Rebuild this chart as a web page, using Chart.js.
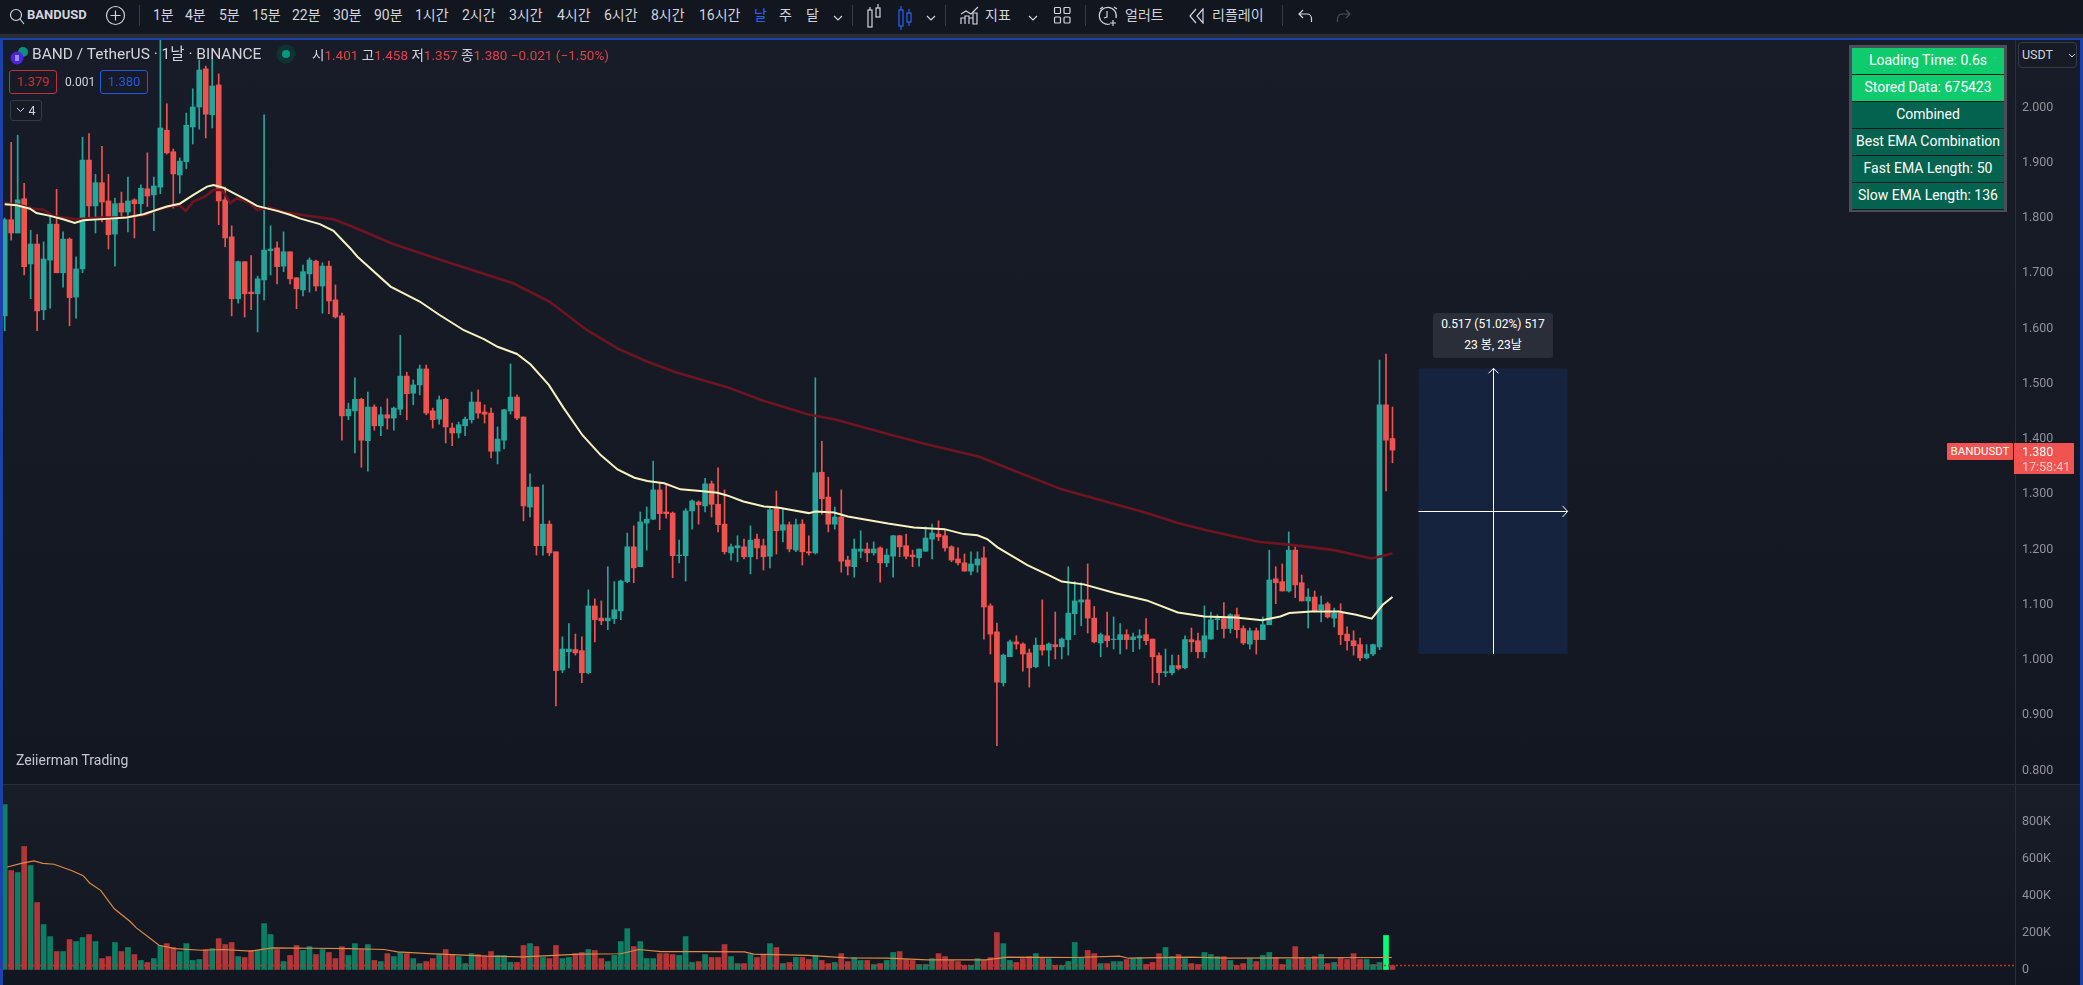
<!DOCTYPE html>
<html lang="ko"><head><meta charset="utf-8"><title>BANDUSDT</title>
<script src="https://cdn.jsdelivr.net/npm/chart.js@4"></script>
<style>
html,body{margin:0;padding:0;background:#131722;overflow:hidden}
body{width:2083px;height:985px;position:relative;font-family:Roboto,'Noto Sans CJK KR',sans-serif;color:#d1d4dc}
.a{position:absolute;white-space:nowrap}
#toolbar{left:0;top:0;width:2083px;height:34px;background:#12161f}
#toolbar span.t{position:absolute;top:5px;font-size:14px;line-height:20px;white-space:nowrap}
#toolbar i{position:absolute;top:5px;width:1px;height:21px;background:#363a45}
#toolbar svg{position:absolute;fill:none;stroke:#d1d4dc;stroke-width:1.2}
#strip{left:0;top:34px;width:2083px;height:4px;background:#2a2e39}
#frameT{left:0;top:38px;width:2083px;height:2px;background:#1e40af}
#frameL{left:0;top:38px;width:3px;height:947px;background:#1e40af}
#frameR{left:2080px;top:38px;width:3px;height:947px;background:#1e40af}
#paneP{left:0;top:40px;width:2083px;height:744px;background:linear-gradient(#181c28,#131721)}
#paneV{left:0;top:785px;width:2083px;height:200px;background:linear-gradient(#191d28,#121620)}
#sep{left:0;top:784px;width:2083px;height:1px;background:#2a2e39}
canvas{position:absolute;left:0}
#legend{left:32px;top:44px;font-size:15.5px;line-height:20px}
#ohlc{left:312px;top:45px;font-size:13.5px;line-height:20px}
#ohlc b{font-weight:400;color:#dd4446}
.box{border-radius:3px;box-sizing:border-box;text-align:center;font-size:13px;line-height:22px}
#table{left:1849px;top:45px;width:158px;height:167px;background:#4a4e58}
#table div{position:absolute;left:3px;width:152px;height:26px;line-height:24px;text-align:center;color:#fff;font-size:14px;box-shadow:0 1px 0 #131722}
.hi{background:#0ecb6e}.lo{background:#03634e}
#tip{left:1433px;top:313px;width:120px;height:45px;background:#2a2e39;border-radius:3px;text-align:center;color:#fff;font-size:12px;line-height:21px;padding-top:1px;box-sizing:border-box}
#sym{left:1947px;top:443px;width:66px;height:17px;background:#f05350;color:#fff;font-size:11.5px;line-height:17px;text-align:center;border-radius:1px}
#px{left:2014px;top:443px;width:60px;height:31px;background:#f05350;color:#fff;font-size:12.5px;line-height:15px;padding:1px 0 0 8px;box-sizing:border-box;border-radius:0 1px 1px 0}
#px span{color:#ffc9c7;display:block;font-size:12.5px}
#usdt{left:2018px;top:42px;width:59px;height:26px;background:#171b26;border:1px solid #363a45;border-radius:4px;box-sizing:border-box;font-size:12.5px;line-height:24px;padding-left:3px}
</style></head><body>
<div class="a" id="paneP"></div><div class="a" id="paneV"></div><div class="a" id="sep"></div>
<canvas id="priceChart" width="2083" height="744" style="top:40px"></canvas>
<canvas id="volumeChart" width="2083" height="200" style="top:785px"></canvas>

<div class="a" id="toolbar">
<svg style="left:9px;top:8px" width="16" height="17"><circle cx="7" cy="7" r="5.5"/><path d="M11 11l4 5"/></svg>
<span class="t" style="left:27px;font-weight:700;font-size:13px">BANDUSD</span>
<svg style="left:105px;top:5px" width="21" height="21"><circle cx="10.5" cy="10.5" r="9"/><path d="M10.5 5.5v10M5.5 10.5h10"/></svg>
<i style="left:139px"></i>
<span class="t" style="left:153px">1분</span><span class="t" style="left:185px">4분</span><span class="t" style="left:219px">5분</span>
<span class="t" style="left:252px">15분</span><span class="t" style="left:292px">22분</span><span class="t" style="left:333px">30분</span>
<span class="t" style="left:374px">90분</span><span class="t" style="left:415px">1시간</span><span class="t" style="left:462px">2시간</span>
<span class="t" style="left:509px">3시간</span><span class="t" style="left:557px">4시간</span><span class="t" style="left:604px">6시간</span>
<span class="t" style="left:651px">8시간</span><span class="t" style="left:699px">16시간</span>
<span class="t" style="left:754px;color:#2962ff">날</span><span class="t" style="left:779px">주</span><span class="t" style="left:806px">달</span>
<svg style="left:833px;top:15px" width="10" height="7"><path d="M1 1l4 4 4-4"/></svg>
<i style="left:852px"></i>
<svg style="left:866px;top:3px" width="16" height="27"><rect x="2" y="7" width="4" height="17"/><path d="M4 4v3"/><rect x="10" y="5" width="4" height="9"/><path d="M12 1v4"/></svg>
<svg style="left:897px;top:5px;stroke:#2962ff" width="16" height="27"><rect x="2" y="5" width="4" height="16"/><path d="M4 1v4M4 21v4"/><rect x="10" y="8" width="4" height="9"/><path d="M12 4v4M12 17v4"/></svg>
<svg style="left:926px;top:15px" width="10" height="7"><path d="M1 1l4 4 4-4"/></svg>
<i style="left:945px"></i>
<svg style="left:960px;top:5px" width="20" height="20"><path d="M1 9l5-3 5 3 7-7"/><path d="M1 19v-6h4v6M5 19v-8h4v8M9 19v-6h4v6M13 19V8h4v11z"/></svg>
<span class="t" style="left:985px">지표</span>
<svg style="left:1028px;top:15px" width="10" height="7"><path d="M1 1l4 4 4-4"/></svg>
<svg style="left:1053px;top:6px" width="19" height="19"><rect x="1.5" y="1.5" width="6" height="6" rx="1"/><rect x="11" y="1.5" width="6" height="6" rx="1"/><rect x="1.5" y="11" width="6" height="6" rx="1"/><rect x="11" y="11" width="6" height="6" rx="1"/></svg>
<i style="left:1085px"></i>
<svg style="left:1098px;top:5px" width="22" height="22"><path d="M12 19a8.5 8.5 0 1 1 6-6M9 6v6l-3 1M15 15v6M12 18h6M2 4l3-2M16 2l3 2"/></svg>
<span class="t" style="left:1125px">얼러트</span>
<svg style="left:1188px;top:8px" width="18" height="16"><path d="M8 1L2 8l6 7M15 1L9 8l6 7z"/></svg>
<span class="t" style="left:1212px">리플레이</span>
<i style="left:1282px"></i>
<svg style="left:1298px;top:9px" width="15" height="14"><path d="M5 1L1 5l4 4M1 5h8a4.5 4.5 0 0 1 4.5 4.5V13"/></svg>
<svg style="left:1336px;top:9px;stroke:#4a4e58" width="15" height="14"><path d="M10 1l4 4-4 4M14 5H6a4.5 4.5 0 0 0-4.5 4.5V13"/></svg>
</div>
<div class="a" id="strip"></div>

<svg class="a" style="left:9px;top:46px" width="20" height="20"><circle cx="14" cy="6" r="5" fill="#0d8f7d"/><circle cx="8" cy="12" r="6.5" fill="#4a25d9"/><rect x="6" y="9" width="4" height="6" fill="#9b8cf0"/></svg>
<div class="a" id="legend">BAND / TetherUS · 1날 · BINANCE</div>
<svg class="a" style="left:276px;top:44px" width="20" height="20"><circle cx="10" cy="10" r="9.5" fill="#0f3331"/><circle cx="10" cy="10" r="4" fill="#089981"/></svg>
<div class="a" id="ohlc">시<b>1.401</b> 고<b>1.458</b> 저<b>1.357</b> 종<b>1.380</b> <b>−0.021 (−1.50%)</b></div>
<div class="a box" style="left:9px;top:70px;width:48px;height:24px;border:1px solid #c2303a;color:#c2303a;background:#171b26">1.379</div>
<div class="a" style="left:65px;top:71px;font-size:12px;line-height:22px">0.001</div>
<div class="a box" style="left:100px;top:70px;width:48px;height:24px;border:1px solid #2457e0;color:#2457e0;background:#171b26">1.380</div>
<div class="a box" style="left:10px;top:100px;width:32px;height:21px;border:1px solid #363a45;background:#171b26;font-size:12.5px;line-height:19px"><svg width="9" height="6" style="fill:none;stroke:#d1d4dc;vertical-align:2px"><path d="M1 1l3.500 3.500L8 1"/></svg> 4</div>
<div class="a" style="left:16px;top:750px;font-size:14px;line-height:20px;color:#c5c8d0">Zeiierman Trading</div>

<div class="a" id="table">
<div class="hi" style="top:3px">Loading Time: 0.6s</div>
<div class="hi" style="top:30px">Stored Data: 675423</div>
<div class="lo" style="top:57px">Combined</div>
<div class="lo" style="top:84px">Best EMA Combination</div>
<div class="lo" style="top:111px">Fast EMA Length: 50</div>
<div class="lo" style="top:138px">Slow EMA Length: 136</div>
</div>
<div class="a" id="tip">0.517 (51.02%) 517<br>23 봉, 23날</div>
<div class="a" id="sym">BANDUSDT</div>
<div class="a" id="px">1.380<span>17:58:41</span></div>
<div class="a" id="usdt">USDT<svg width="8" height="5" style="position:absolute;left:49px;top:10px;fill:none;stroke:#d1d4dc"><path d="M1 1l3 3 3-3"/></svg></div>
<div class="a" id="frameT"></div><div class="a" id="frameL"></div><div class="a" id="frameR"></div>

<script>
const opens=[1.623,1.797,1.773,1.835,1.717,1.753,1.634,1.724,1.789,1.701,
1.762,1.657,1.708,1.905,1.822,1.864,1.831,1.771,1.827,1.811,
1.833,1.826,1.853,1.842,1.856,1.959,1.920,1.878,1.902,1.965,
2.001,2.070,1.987,2.041,1.833,1.766,1.654,1.721,1.666,1.663,
1.688,1.741,1.746,1.713,1.739,1.692,1.670,1.699,1.722,1.677,
1.713,1.652,1.623,1.442,1.451,1.472,1.397,1.458,1.424,1.444,
1.438,1.454,1.514,1.483,1.498,1.527,1.451,1.436,1.472,1.420,
1.411,1.424,1.435,1.467,1.449,1.447,1.378,1.398,1.451,1.476,
1.440,1.277,1.313,1.207,1.246,1.196,0.982,1.015,1.019,1.017,
0.977,1.098,1.076,1.071,1.075,1.089,1.142,1.205,1.169,1.248,
1.255,1.308,1.268,1.266,1.189,1.189,1.270,1.286,1.279,1.319,
1.282,1.246,1.194,1.203,1.205,1.187,1.219,1.207,1.188,1.275,
1.235,1.245,1.199,1.246,1.196,1.194,1.340,1.295,1.246,1.259,
1.181,1.169,1.197,1.201,1.194,1.203,1.176,1.188,1.225,1.207,
1.190,1.185,1.197,1.219,1.228,1.225,1.205,1.183,1.176,1.161,
1.172,1.185,1.098,1.051,0.959,1.006,1.033,1.029,1.013,0.988,
1.027,1.018,1.028,1.024,1.037,1.084,1.105,1.109,1.076,1.031,
1.044,1.037,1.037,1.046,1.037,1.040,1.046,1.038,1.008,0.977,
0.977,0.990,0.986,1.037,1.035,1.015,1.038,1.073,1.075,1.057,
1.082,1.057,1.029,1.053,1.037,1.064,1.147,1.142,1.125,1.199,
1.140,1.107,1.114,1.091,1.102,1.076,1.085,1.047,1.035,1.028,
1.004,1.011,1.024,1.462,1.401];
const highs=[1.800,1.937,1.950,1.863,1.778,1.770,1.757,1.808,1.852,1.775,
1.764,1.730,1.946,1.953,1.879,1.930,1.879,1.836,1.847,1.874,
1.835,1.860,1.918,1.874,2.122,2.007,1.925,1.909,1.990,2.034,
2.086,2.075,2.090,2.061,1.856,1.786,1.722,1.721,1.732,1.695,
1.987,1.786,1.757,1.775,1.739,1.692,1.715,1.728,1.724,1.719,
1.722,1.679,1.628,1.465,1.511,1.474,1.485,1.462,1.458,1.473,
1.458,1.588,1.521,1.507,1.534,1.534,1.456,1.478,1.474,1.429,
1.431,1.440,1.485,1.489,1.462,1.456,1.422,1.454,1.536,1.480,
1.440,1.337,1.313,1.317,1.252,1.196,1.042,1.066,1.047,1.042,
1.127,1.111,1.107,1.169,1.142,1.145,1.230,1.243,1.268,1.277,
1.360,1.321,1.317,1.268,1.217,1.274,1.290,1.288,1.329,1.324,
1.348,1.308,1.210,1.225,1.219,1.243,1.228,1.219,1.275,1.306,
1.275,1.250,1.255,1.254,1.225,1.511,1.396,1.331,1.277,1.308,
1.188,1.219,1.234,1.212,1.214,1.205,1.201,1.226,1.226,1.228,
1.199,1.201,1.241,1.246,1.252,1.235,1.207,1.203,1.192,1.196,
1.196,1.205,1.102,1.067,1.011,1.036,1.044,1.031,1.020,1.040,
1.109,1.031,1.087,1.040,1.169,1.142,1.140,1.174,1.097,1.049,
1.087,1.078,1.066,1.055,1.049,1.055,1.075,1.038,1.013,1.020,
1.009,1.009,1.044,1.058,1.049,1.098,1.087,1.082,1.104,1.084,
1.094,1.062,1.058,1.058,1.078,1.199,1.169,1.174,1.232,1.205,
1.154,1.129,1.125,1.116,1.105,1.094,1.102,1.060,1.053,1.040,
1.028,1.029,1.543,1.554,1.458];
const lows=[1.596,1.760,1.773,1.697,1.654,1.596,1.616,1.637,1.701,1.675,
1.605,1.619,1.701,1.797,1.773,1.793,1.744,1.713,1.800,1.775,
1.764,1.806,1.821,1.777,1.844,1.916,1.818,1.845,1.889,1.934,
1.961,1.945,1.963,1.788,1.748,1.623,1.646,1.621,1.634,1.594,
1.652,1.697,1.681,1.703,1.681,1.636,1.659,1.666,1.668,1.628,
1.627,1.619,1.398,1.435,1.375,1.349,1.342,1.416,1.406,1.418,
1.416,1.444,1.435,1.462,1.480,1.444,1.420,1.427,1.393,1.388,
1.402,1.406,1.429,1.438,1.429,1.366,1.355,1.382,1.445,1.435,
1.252,1.259,1.190,1.190,1.189,0.917,0.977,0.986,1.009,0.959,
0.975,1.033,1.064,1.055,1.066,1.073,1.140,1.140,1.169,1.199,
1.254,1.236,1.257,1.149,1.176,1.143,1.237,1.246,1.268,1.259,
1.232,1.192,1.181,1.178,1.183,1.156,1.183,1.163,1.167,1.192,
1.214,1.196,1.196,1.172,1.190,1.192,1.264,1.232,1.237,1.159,
1.154,1.150,1.185,1.178,1.190,1.141,1.169,1.150,1.187,1.183,
1.169,1.170,1.197,1.183,1.216,1.197,1.178,1.172,1.161,1.154,
1.159,1.038,1.011,0.845,0.953,1.006,1.020,0.980,0.951,0.986,
1.009,0.989,1.002,1.002,1.009,1.046,1.062,1.049,1.031,1.006,
1.024,1.020,1.011,1.020,1.015,1.020,1.028,0.959,0.955,0.970,
0.973,0.982,0.984,1.015,1.004,1.004,1.038,1.055,1.040,1.049,
1.040,1.028,1.020,1.011,1.037,1.064,1.102,1.125,1.123,1.113,
1.107,1.058,1.087,1.069,1.076,1.060,1.028,1.018,1.009,0.999,
1.002,1.008,1.019,1.306,1.357];
const closes=[1.797,1.773,1.833,1.712,1.753,1.632,1.726,1.789,1.701,1.762,
1.656,1.708,1.905,1.822,1.864,1.829,1.770,1.826,1.811,1.831,
1.826,1.854,1.840,1.858,1.963,1.918,1.880,1.903,1.968,2.001,
2.068,1.988,2.039,1.831,1.764,1.654,1.721,1.663,1.663,1.690,
1.742,1.744,1.712,1.739,1.690,1.672,1.703,1.724,1.677,1.713,
1.650,1.621,1.442,1.454,1.472,1.398,1.458,1.424,1.444,1.438,
1.456,1.514,1.482,1.498,1.527,1.447,1.435,1.471,1.422,1.411,
1.426,1.436,1.467,1.447,1.445,1.378,1.400,1.453,1.476,1.438,
1.279,1.313,1.207,1.246,1.194,0.981,1.020,1.020,1.013,0.977,
1.098,1.073,1.071,1.076,1.091,1.143,1.205,1.167,1.250,1.255,
1.308,1.265,1.265,1.189,1.190,1.270,1.288,1.281,1.319,1.282,
1.245,1.196,1.205,1.207,1.187,1.217,1.203,1.187,1.272,1.234,
1.245,1.201,1.245,1.196,1.194,1.339,1.292,1.246,1.259,1.179,
1.170,1.201,1.201,1.194,1.201,1.176,1.190,1.225,1.205,1.188,
1.187,1.201,1.221,1.230,1.223,1.203,1.181,1.176,1.161,1.174,
1.183,1.096,1.047,0.960,1.009,1.033,1.029,1.011,0.986,1.027,
1.018,1.029,1.024,1.038,1.085,1.107,1.109,1.076,1.033,1.046,
1.035,1.038,1.046,1.037,1.042,1.044,1.035,1.006,0.977,0.979,
0.990,0.985,1.037,1.033,1.015,1.044,1.073,1.075,1.057,1.082,
1.055,1.031,1.053,1.037,1.064,1.145,1.140,1.125,1.199,1.136,
1.107,1.114,1.089,1.100,1.078,1.085,1.046,1.035,1.026,1.004,
1.011,1.028,1.462,1.398,1.380];
const volumesK=[891,535,524,665,562,362,243,178,97,97,
162,151,173,189,151,59,70,146,97,119,
81,49,38,59,130,140,119,97,140,49,
54,108,113,167,135,146,70,65,103,103,
248,189,108,43,76,130,103,124,81,108,
92,59,124,76,140,108,135,49,43,86,
70,92,86,59,32,43,59,81,108,81,
70,32,86,81,70,97,76,76,38,38,
130,140,124,65,59,130,59,65,86,92,
108,103,59,43,76,151,221,124,151,59,
59,86,86,81,76,178,38,43,81,65,
65,135,70,32,32,81,65,81,140,119,
32,38,65,65,54,76,49,32,38,86,
43,65,49,49,27,32,49,92,97,54,
49,27,27,59,86,70,49,43,22,22,
59,49,65,200,140,49,38,59,70,86,
65,59,22,22,43,146,65,103,86,32,
32,43,43,54,59,65,27,38,86,119,
70,81,59,32,27,92,81,70,70,49,
22,32,59,43,76,92,65,27,54,124,
65,59,70,81,32,38,65,54,86,54,
54,27,38,184,22];
const fastEmaBar=[0,1.85,3.9,4.9,7,9,10.8,12.1,16.2,18.8,21.4,25,27,29.1,31.2,32.2,33.7,35.3,37.3,38.9,42,44,45.6,48.6,50.7,53.3,54.4,59.5,64,67,70.8,73.9,76,79,81.1,83.9,86.2,89.1,91.9,94.5,97.1,99.1,101.7,104.2,107.3,109.9,111.4,113.9,117.1,119.2,120.7,124,125,127.9,130,136.2,140.2,144.9,147.9,150,151.5,153.1,157.7,161.3,163,166.4,171.3,176.1,180.9,185,189.8,193.9,196.7,198.1,201.5,205.7,208.4,210.8,212.5,214];
const fastEmaPrice=[1.825,1.823,1.817,1.809,1.804,1.798,1.791,1.796,1.799,1.801,1.807,1.821,1.826,1.842,1.857,1.860,1.855,1.845,1.833,1.822,1.813,1.806,1.799,1.789,1.777,1.745,1.730,1.676,1.649,1.625,1.597,1.581,1.567,1.554,1.535,1.498,1.456,1.407,1.371,1.345,1.330,1.324,1.320,1.309,1.306,1.303,1.298,1.287,1.278,1.276,1.273,1.266,1.269,1.267,1.260,1.247,1.240,1.237,1.228,1.226,1.219,1.204,1.172,1.152,1.142,1.137,1.121,1.108,1.086,1.079,1.077,1.072,1.079,1.085,1.088,1.088,1.082,1.075,1.100,1.114];
const slowEmaBar=[0,2.4,4.4,6,7.5,9,11.1,14.7,18.3,21.9,23.4,26,27,27.9,29.1,30.9,32.2,33.5,34.8,35.8,37.8,38.9,40.9,43,45.6,50.7,53.3,59.9,68.1,78.4,84,89.8,94.5,99.1,103.7,107.3,111.4,116.9,123.8,127.9,136.2,141.7,150.3,155.4,163,176.1,180.9,185,193.3,198.8,205,210.8,214];
const slowEmaPrice=[1.827,1.823,1.817,1.815,1.803,1.801,1.798,1.801,1.801,1.806,1.815,1.822,1.823,1.813,1.830,1.839,1.851,1.851,1.827,1.836,1.827,1.815,1.819,1.811,1.806,1.798,1.786,1.753,1.721,1.682,1.649,1.597,1.564,1.540,1.520,1.508,1.494,1.470,1.445,1.436,1.409,1.392,1.368,1.344,1.309,1.266,1.248,1.236,1.214,1.208,1.199,1.184,1.193];
const volumeMaBar=[0.4,2.4,4.5,5.9,7.6,10.3,12.1,13.1,14.8,16.9,19.3,20.3,22,23.8,26.2,30.3,33.7,37.9,41.3,47.5,53,58.5,60.6,65.4,74.4,79.9,88.8,95,97.8,101.2,107.3,114.1,115.5,123.8,130,136.2,142.3,148.5,151.3,154.7,165,171.9,173.3,183,188.5,196.7,213.9];
const volumeMaK=[554,572,587,574,569,535,507,468,428,328,261,225,180,131,113,104,108,99,117,115,113,108,95,86,72,68,83,85,108,97,97,95,83,76,63,61,52,52,52,67,65,72,61,67,61,63,65];
const lastVolumeK=22;
const highlightedVolumeBar=213;
const measureBars=[218,241];
const measurePrices=[1.011,1.528];
const measureMidPrice=1.270;
const priceTickStep=0.1;
const volumeTickStepK=200;

const UP='#26a69a',DOWN='#ef5350',VOL_UP='#0a7f63',VOL_DOWN='#b03638',VOL_HI='#00ff7b';
const BAR_STEP=6.485,FIRST_X=4.7,AXIS_LEFT=2015,AXIS_W=68;
const xMin=-FIRST_X/BAR_STEP,xMax=(AXIS_LEFT-FIRST_X)/BAR_STEP;
const PX_PER_PRICE=552.5,PRICE_TOP=2.1223;
const pxPerK=37/200,V_ZERO=184.5,V_H=200;
const isUp=i=>closes[i]>=opens[i];
const candleColors=opens.map((_,i)=>isUp(i)?UP:DOWN);
const volColors=opens.map((_,i)=>i===highlightedVolumeBar?VOL_HI:(isUp(i)?VOL_UP:VOL_DOWN));
const zip=(xs,ys)=>xs.map((x,i)=>({x,y:ys[i]}));

function axis(min,max,step,fmt){return{position:'right',min,max,
  afterFit(s){s.width=AXIS_W;s.paddingTop=0;s.paddingBottom=0},
  grid:{display:false,drawTicks:false},border:{display:true,color:'#2a2e39',width:1},
  ticks:{stepSize:step,includeBounds:false,autoSkip:false,padding:7,color:'#8f929b',
    font:{family:'Roboto',size:12.5},callback:fmt}};}
const xAxis={type:'linear',display:false,min:xMin,max:xMax,offset:false,grid:{display:false}};
const base={responsive:false,animation:false,devicePixelRatio:1,
  layout:{padding:0},plugins:{legend:{display:false},tooltip:{enabled:false}},events:[]};

const measurePlugin={id:'measure',afterDatasetsDraw(c){
  const {ctx,scales:{x,y}}=c;
  const l=x.getPixelForValue(measureBars[0]),r=x.getPixelForValue(measureBars[1]);
  const t=y.getPixelForValue(measurePrices[1]),b=y.getPixelForValue(measurePrices[0]);
  const m=y.getPixelForValue(measureMidPrice),cx=(l+r)/2;
  ctx.save();ctx.fillStyle='#16233f';ctx.fillRect(l,t,r-l,b-t);
  ctx.strokeStyle='#fff';ctx.lineWidth=1;ctx.beginPath();
  ctx.moveTo(l,Math.round(m)+.5);ctx.lineTo(r,Math.round(m)+.5);
  ctx.moveTo(Math.round(cx)+.5,b);ctx.lineTo(Math.round(cx)+.5,t);
  ctx.moveTo(r-5,m-5);ctx.lineTo(r,m+.5);ctx.lineTo(r-5,m+6);
  ctx.moveTo(cx-4.5,t+5);ctx.lineTo(cx+.5,t);ctx.lineTo(cx+5.5,t+5);
  ctx.stroke();ctx.restore();}};

new Chart(document.getElementById('priceChart'),{type:'bar',plugins:[measurePlugin],data:{datasets:[
 {type:'bar',order:5,barThickness:1,grouped:false,backgroundColor:candleColors,
  data:lows.map((l,i)=>({x:i,y:[l,highs[i]]}))},
 {type:'bar',order:4,barThickness:5,grouped:false,backgroundColor:candleColors,
  data:opens.map((o,i)=>({x:i,y:[o,closes[i]]}))},
 {type:'line',order:3,borderColor:'#6f1420',borderWidth:2.6,pointRadius:0,tension:0,data:zip(slowEmaBar,slowEmaPrice)},
 {type:'line',order:2,borderColor:'#f7f3c1',borderWidth:2,pointRadius:0,tension:0,data:zip(fastEmaBar,fastEmaPrice)}
]},options:{...base,scales:{x:xAxis,
 y:axis(PRICE_TOP-744/PX_PER_PRICE,PRICE_TOP,priceTickStep,v=>v.toFixed(3))}}});

new Chart(document.getElementById('volumeChart'),{type:'bar',data:{datasets:[
 {type:'bar',order:4,barThickness:5,grouped:false,backgroundColor:volColors,
  data:volumesK.map((v,i)=>({x:i,y:v}))},
 {type:'line',order:3,borderColor:'#c9302c',borderWidth:1.5,borderDash:[2,2],pointRadius:0,
  data:[{x:xMin,y:lastVolumeK},{x:xMax,y:lastVolumeK}]},
 {type:'line',order:2,borderColor:'#dd8a45',borderWidth:1.2,pointRadius:0,tension:0,data:zip(volumeMaBar,volumeMaK)}
]},options:{...base,scales:{x:xAxis,
 y:axis(-(V_H-V_ZERO)/pxPerK,V_ZERO/pxPerK,volumeTickStepK,v=>v===0?'0':v+'K')}}});
</script>
</body></html>
